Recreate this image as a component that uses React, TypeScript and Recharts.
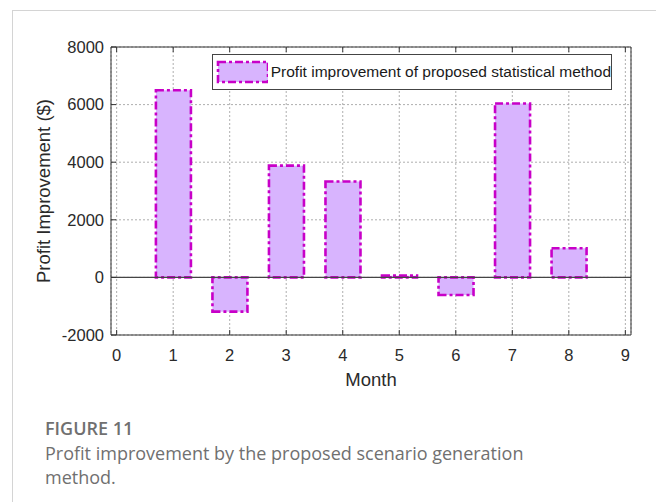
import React from 'react';
import { BarChart, Bar, XAxis, YAxis, CartesianGrid, ReferenceLine } from 'recharts';

const months = [1, 2, 3, 4, 5, 6, 7, 8];
const profitGain = [6500, -1190, 3880, 3330, 60, -610, 6040, 1010];
const xTicks = [0, 1, 2, 3, 4, 5, 6, 7, 8, 9];
const yTicks = [-2000, 0, 2000, 4000, 6000, 8000];
const seriesName = 'Profit improvement of proposed statistical method';

const data = months.map((m, i) => ({ month: m, gain: profitGain[i] }));

const FILL = '#d8b4fe';
const EDGE = '#c800c8';
const DASH = '8 3 3 3';
const FONT = 'Liberation Sans, Arial, sans-serif';

// matlab-style legend box, sits over the plot top-right
const LegendBox = () => (
  <div
    style={{
      position: 'absolute',
      left: 212,
      top: 54,
      width: 400,
      height: 36,
      border: '1px solid #444',
      background: '#fff',
      display: 'flex',
      alignItems: 'center',
      boxSizing: 'border-box',
      whiteSpace: 'nowrap',
      fontFamily: FONT,
      fontSize: 15.5,
      color: '#1a1a1a',
    }}
  >
    <svg width={56} height={24} style={{ marginLeft: 3, marginRight: 3 }}>
      <rect x={2} y={2} width={50} height={20} fill={FILL} stroke={EDGE} strokeWidth={2.6} strokeDasharray={DASH} />
    </svg>
    <span>{seriesName}</span>
  </div>
);

export default function App() {
  return (
    <div style={{ position: 'absolute', left: 0, top: 0, width: 656, height: 502, overflow: 'hidden', background: '#fff' }}>
      <div
        style={{
          position: 'absolute',
          left: 12,
          top: 10,
          width: 700,
          height: 600,
          borderTop: '1.5px solid #d4d4d4',
          borderLeft: '1.5px solid #d4d4d4',
        }}
      />
      <div style={{ position: 'absolute', left: 0, top: 0 }}>
        <BarChart
          width={656}
          height={390}
          data={data}
          margin={{ top: 47, right: 25, bottom: 0, left: 51 }}
        >
          <CartesianGrid stroke="#999" strokeDasharray="2 2" strokeWidth={0.8} />
          <XAxis
            dataKey="month"
            type="number"
            domain={[-0.1, 9.1]}
            ticks={xTicks}
            interval={0}
            height={55}
            stroke="#333"
            tickSize={-5}
            tickMargin={19}
            tick={{ fill: '#2a2a2a', fontFamily: FONT, fontSize: 16.5 }}
            label={{ value: 'Month', position: 'insideBottom', offset: 4, fill: '#2a2a2a', fontFamily: FONT, fontSize: 18.5 }}
          />
          <XAxis
            xAxisId="top"
            dataKey="month"
            type="number"
            orientation="top"
            mirror
            domain={[-0.1, 9.1]}
            ticks={xTicks}
            interval={0}
            stroke="#333"
            tickSize={5}
            tickFormatter={() => ''}
          />
          <YAxis
            domain={[-2000, 8000]}
            ticks={yTicks}
            interval={0}
            width={60}
            stroke="#333"
            tickSize={-5}
            tickMargin={12}
            tick={{ fill: '#2a2a2a', fontFamily: FONT, fontSize: 16.5 }}
            label={{
              value: 'Profit Improvement ($)',
              angle: -90,
              position: 'insideLeft',
              offset: -8,
              style: { textAnchor: 'middle' },
              fill: '#2a2a2a',
              fontFamily: FONT,
              fontSize: 18.5,
            }}
          />
          <YAxis
            yAxisId="right"
            orientation="right"
            mirror
            domain={[-2000, 8000]}
            ticks={yTicks}
            interval={0}
            stroke="#333"
            tickSize={5}
            tickFormatter={() => ''}
          />
          <ReferenceLine y={0} stroke="#444" strokeWidth={1.2} />
          <Bar
            dataKey="gain"
            name={seriesName}
            barSize={35}
            fill={FILL}
            stroke={EDGE}
            strokeWidth={2.6}
            strokeDasharray={DASH}
            isAnimationActive={false}
          />
        </BarChart>
      </div>
      <LegendBox />
      <div
        style={{
          position: 'absolute',
          left: 45,
          top: 415,
          fontFamily: 'Open Sans, sans-serif',
          color: '#707070',
        }}
      >
        <div style={{ fontSize: 18, fontWeight: 600, lineHeight: '26px' }}>FIGURE 11</div>
        <div style={{ fontSize: 18, lineHeight: '24px', width: 560 }}>
          Profit improvement by the proposed scenario generation
          <br />
          method.
        </div>
      </div>
    </div>
  );
}
